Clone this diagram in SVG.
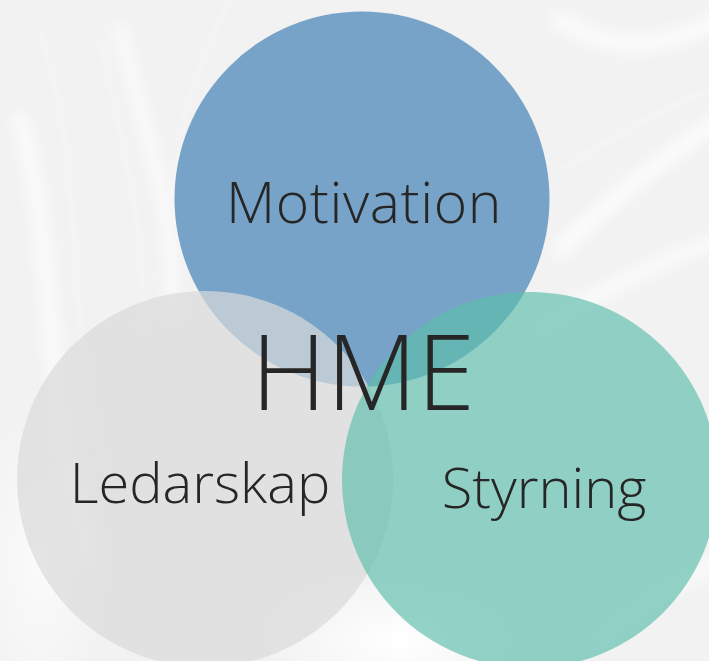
<svg xmlns="http://www.w3.org/2000/svg" width="709" height="661" viewBox="0 0 709 661">
  <style>
    .lbl { font-family: "Open Sans", "Liberation Sans", sans-serif; font-weight: 300; fill: #262626; text-anchor: middle; }
    .swirl { fill: none; stroke: #ffffff; stroke-linecap: round; }
  </style>
  <defs>
    <filter id="soft" x="-20%" y="-20%" width="140%" height="140%">
      <feGaussianBlur stdDeviation="7"/>
    </filter>
    <filter id="soft2" x="-20%" y="-20%" width="140%" height="140%">
      <feGaussianBlur stdDeviation="2.5"/>
    </filter>
    <radialGradient id="glowBottom" cx="0.5" cy="0.5" r="0.5">
      <stop offset="0" stop-color="#ffffff" stop-opacity="1"/>
      <stop offset="1" stop-color="#ffffff" stop-opacity="0"/>
    </radialGradient>
  </defs>

  <g id="background">
    <rect x="0" y="0" width="709" height="661" fill="#f2f2f2"/>
    <ellipse cx="400" cy="640" rx="140" ry="70" fill="url(#glowBottom)"/>
    <ellipse cx="40" cy="560" rx="70" ry="160" fill="url(#glowBottom)" opacity="0.7"/>
    <g filter="url(#soft)" opacity="0.7">
      <path class="swirl" stroke-width="18" d="M560 250 C 610 200, 660 160, 720 120"/>
      <path class="swirl" stroke-width="14" d="M540 330 C 600 290, 660 260, 720 240"/>
      <path class="swirl" stroke-width="16" d="M20 120 C 60 260, 40 400, 90 560"/>
      <path class="swirl" stroke-width="12" d="M120 30 C 150 150, 180 230, 170 310"/>
      <path class="swirl" stroke-width="18" d="M560 20 C 620 60, 680 40, 720 20"/>
      <path class="swirl" stroke-width="14" d="M600 640 C 640 600, 680 580, 720 560"/>
    </g>
    <g filter="url(#soft2)" opacity="0.45">
      <path class="swirl" stroke-width="2" d="M40 30 C 90 180, 60 330, 110 480"/>
      <path class="swirl" stroke-width="2" d="M100 40 C 130 170, 150 260, 140 330"/>
      <path class="swirl" stroke-width="2" d="M230 0 C 200 60, 170 140, 175 200"/>
      <path class="swirl" stroke-width="2" d="M560 170 C 610 140, 660 110, 709 90"/>
      <path class="swirl" stroke-width="2" d="M600 640 C 640 610, 680 590, 709 580"/>
    </g>
  </g>

  <g id="motivation">
    <circle cx="362" cy="199" r="187.5" fill="#77a3c8"/>
    <text class="lbl" x="364" y="223" font-size="57" letter-spacing="0.6">Motivation</text>
  </g>

  <g id="ledarskap">
    <circle cx="205" cy="479" r="188" fill="#dadada" fill-opacity="0.7"/>
    <text class="lbl" x="200" y="503" font-size="56">Ledarskap</text>
  </g>

  <g id="styrning">
    <circle cx="530" cy="480" r="188" fill="#5cbeab" fill-opacity="0.66"/>
    <text class="lbl" x="544" y="508" font-size="56">Styrning</text>
  </g>

  <g id="hme">
    <text class="lbl" x="363" y="410" font-size="105">HME</text>
  </g>
</svg>
